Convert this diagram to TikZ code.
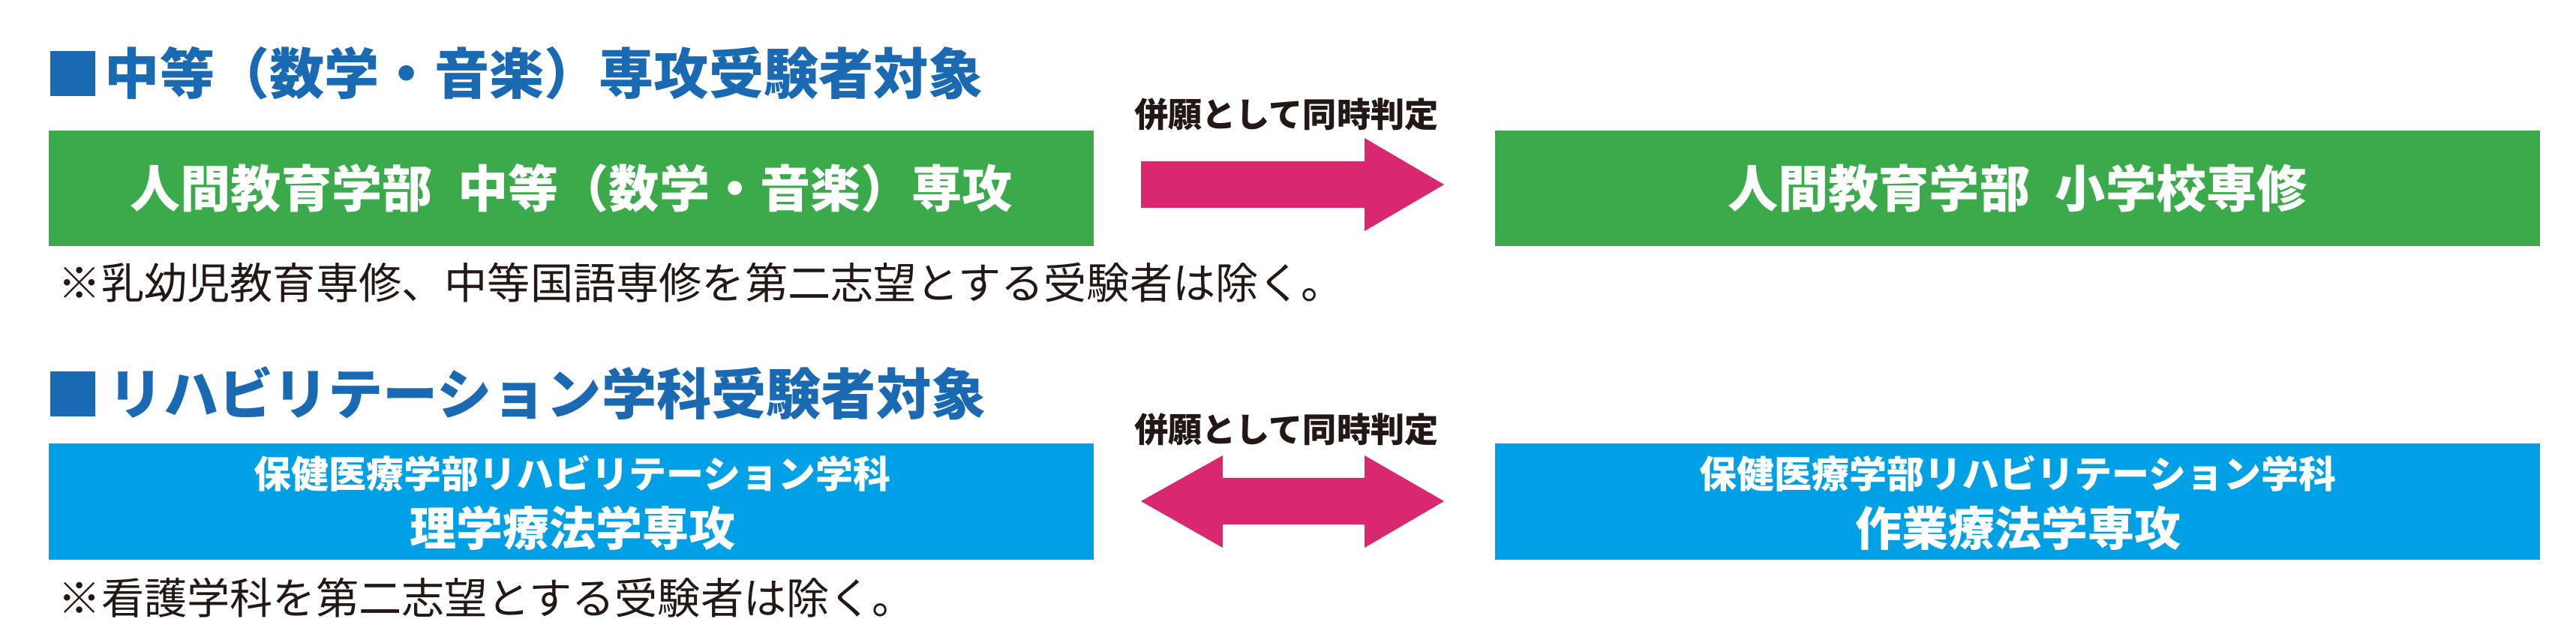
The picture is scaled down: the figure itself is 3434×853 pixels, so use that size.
\documentclass[tikz,border=0pt]{standalone}
\usepackage{fontspec}
\newfontfamily\jp{Noto Sans CJK JP}
\definecolor{ttlblue}{HTML}{1A69B3}
\definecolor{boxgreen}{HTML}{3AAA4A}
\definecolor{boxblue}{HTML}{00A0E6}
\definecolor{arrowpink}{HTML}{D9286F}
\definecolor{ink}{HTML}{231815}
\tikzset{
  title/.style={anchor=west, inner sep=0pt, text=ttlblue, font=\jp\bfseries\fontsize{18.3pt}{20pt}\selectfont},
  bullet/.style={fill=ttlblue, draw=none, minimum width=15pt, minimum height=15pt, inner sep=0pt},
  greenbox/.style={fill=boxgreen, draw=none, minimum width=348.25pt, minimum height=38.5pt, inner sep=0pt, text=white, font=\jp\bfseries\fontsize{16.8pt}{20pt}\selectfont},
  bluebox/.style={fill=boxblue, draw=none, minimum width=348.25pt, minimum height=38.75pt, inner sep=0pt},
  boxtxtA/.style={inner sep=0pt, text=white, font=\jp\bfseries\fontsize{12.5pt}{14pt}\selectfont},
  boxtxtB/.style={inner sep=0pt, text=white, font=\jp\bfseries\fontsize{15.5pt}{18pt}\selectfont},
  note/.style={anchor=west, inner sep=0pt, text=ink, font=\jp\fontsize{14.3pt}{16pt}\selectfont},
  arrlabel/.style={inner sep=0pt, text=ink, font=\jp\bfseries\fontsize{11.3pt}{13pt}\selectfont},
  bigarrow/.style={fill=arrowpink, draw=none}
}
\begin{document}
\begin{tikzpicture}[x=0.25pt,y=-0.25pt]
\useasboundingbox (0,0) rectangle (3434,853);
\fill[white] (0,0) rectangle (3434,853);

% --- section 1 ---
\node[bullet] (sq1) at (97,98) {};
\node[title] (t1) at (139,98) {中等（数学・音楽）専攻受験者対象};
\node[greenbox] (g1) at (761.5,251) {人間教育学部\hspace{0.5em}中等（数学・音楽）専攻};
\node[greenbox] (g2) at (2689.5,251) {人間教育学部\hspace{0.5em}小学校専修};
\node[note] (n1) at (77,377) {※乳幼児教育専修、中等国語専修を第二志望とする受験者は除く。};
\node[arrlabel] (l1) at (1715,152) {併願として同時判定};
\fill[bigarrow] (1521,215) -- (1819,215) -- (1819,184) -- (1925,246) -- (1819,308) -- (1819,277) -- (1521,277) -- cycle;

% --- section 2 ---
\node[bullet] (sq2) at (97,525) {};
\node[title] (t2) at (144,524) {リハビリテーション学科受験者対象};
\node[bluebox] (b1) at (761.5,668.5) {};
\node[boxtxtA] (b1a) at (763,631) {保健医療学部リハビリテーション学科};
\node[boxtxtB] (b1b) at (763,704) {理学療法学専攻};
\node[bluebox] (b2) at (2689.5,668.5) {};
\node[boxtxtA] (b2a) at (2690,631) {保健医療学部リハビリテーション学科};
\node[boxtxtB] (b2b) at (2690,704) {作業療法学専攻};
\node[note] (n2) at (77,797) {※看護学科を第二志望とする受験者は除く。};
\node[arrlabel] (l2) at (1715,572) {併願として同時判定};
\fill[bigarrow] (1521,668) -- (1630,607) -- (1630,637) -- (1819,637) -- (1819,607) -- (1925,668) -- (1819,730) -- (1819,699) -- (1630,699) -- (1630,730) -- cycle;
\end{tikzpicture}
\end{document}
